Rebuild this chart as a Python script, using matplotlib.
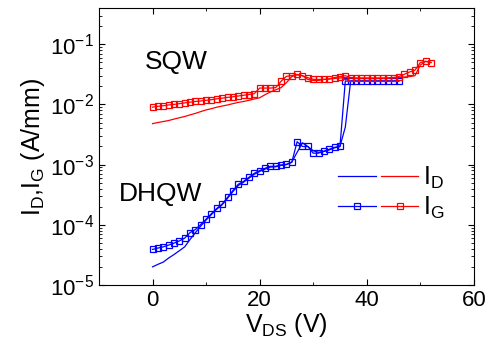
import numpy as np
import matplotlib
matplotlib.use('Agg')
import matplotlib.pyplot as plt
from matplotlib.legend_handler import HandlerTuple

plt.rcParams['font.family'] = 'Liberation Sans'
plt.rcParams['mathtext.default'] = 'regular'
plt.rcParams.update({'font.size': 16})

# DHQW (blue)
v_dh_g = np.arange(0, 47)
ig_dh = [3.9e-5, 4.1e-5, 4.3e-5, 4.6e-5, 4.95e-5, 5.4e-5, 6.0e-5, 7.4e-5, 8.35e-5, 1.01e-4,
         1.24e-4, 1.53e-4, 1.87e-4, 2.21e-4, 2.85e-4, 3.69e-4, 4.7e-4, 5.27e-4, 6.14e-4, 7.16e-4,
         7.94e-4, 8.68e-4, 9.37e-4, 9.37e-4, 9.89e-4, 1.01e-3, 1.09e-3, 2.4e-3, 2.0e-3, 2.0e-3,
         1.55e-3, 1.55e-3, 1.67e-3, 1.8e-3, 1.94e-3, 2.0e-3, 0.0245, 0.0245, 0.0245, 0.0245,
         0.0245, 0.0245, 0.0245, 0.0245, 0.0245, 0.0245, 0.0245]
v_dh_d = np.arange(0, 47)
id_dh = [2.0e-5, 2.2e-5, 2.4e-5, 2.8e-5, 3.2e-5, 3.7e-5, 4.3e-5, 5.7e-5, 7.4e-5, 9.5e-5,
         1.2e-4, 1.48e-4, 1.82e-4, 2.15e-4, 2.75e-4, 3.55e-4, 4.5e-4, 5.1e-4, 5.95e-4, 6.9e-4,
         7.7e-4, 8.4e-4, 9.1e-4, 9.2e-4, 9.7e-4, 1.0e-3, 1.1e-3, 1.6e-3, 2.3e-3, 2.0e-3,
         1.7e-3, 1.6e-3, 1.65e-3, 1.75e-3, 1.9e-3, 2.0e-3, 4.2e-3, 0.0245, 0.0245, 0.0245,
         0.0245, 0.0245, 0.0245, 0.0245, 0.0245, 0.0245, 0.0245]

# SQW (red)
v_sq = np.arange(0, 53)
ig_sq = [9.0e-3, 9.3e-3, 9.5e-3, 9.8e-3, 1.0e-2, 1.03e-2, 1.06e-2, 1.09e-2, 1.12e-2, 1.14e-2,
         1.17e-2, 1.2e-2, 1.24e-2, 1.27e-2, 1.31e-2, 1.34e-2, 1.38e-2, 1.42e-2, 1.46e-2, 1.51e-2,
         1.87e-2, 1.87e-2, 1.87e-2, 1.9e-2, 2.42e-2, 2.93e-2, 3.02e-2, 3.16e-2, 3.0e-2, 2.78e-2,
         2.61e-2, 2.6e-2, 2.6e-2, 2.65e-2, 2.8e-2, 2.9e-2, 3.0e-2, 2.8e-2, 2.75e-2, 2.75e-2,
         2.75e-2, 2.75e-2, 2.75e-2, 2.75e-2, 2.75e-2, 2.8e-2, 2.9e-2, 3.16e-2, 3.46e-2, 3.7e-2,
         4.95e-2, 5.2e-2, 4.95e-2]
id_sq = [4.8e-3, 5.0e-3, 5.2e-3, 5.4e-3, 5.7e-3, 6.0e-3, 6.3e-3, 6.7e-3, 7.1e-3, 7.6e-3,
         8.1e-3, 8.5e-3, 9.0e-3, 9.4e-3, 9.8e-3, 1.03e-2, 1.08e-2, 1.12e-2, 1.17e-2, 1.23e-2,
         1.29e-2, 1.45e-2, 1.61e-2, 1.75e-2, 1.9e-2, 2.3e-2, 2.9e-2, 3.1e-2, 3.0e-2, 2.6e-2,
         2.5e-2, 2.5e-2, 2.6e-2, 2.65e-2, 2.7e-2, 2.75e-2, 2.8e-2, 2.75e-2, 2.7e-2, 2.7e-2,
         2.7e-2, 2.7e-2, 2.7e-2, 2.7e-2, 2.75e-2, 2.75e-2, 2.8e-2, 2.85e-2, 2.9e-2, 3.0e-2,
         4.5e-2, 5.2e-2, 5.0e-2]

fig = plt.figure(figsize=(4.9, 3.54), dpi=100)
ax = fig.add_axes([0.202, 0.195, 0.765, 0.782])

blue = '#0000ff'
red = '#ff0000'
mk = dict(marker='s', markersize=4.2, markerfacecolor='none', markeredgewidth=0.9)

l_bd, = ax.plot(v_dh_d, id_dh, color=blue, lw=0.9)
l_bg, = ax.plot(v_dh_g, ig_dh, color=blue, lw=0.9, **mk)
l_rd, = ax.plot(v_sq, id_sq, color=red, lw=0.9)
l_rg, = ax.plot(v_sq, ig_sq, color=red, lw=0.9, **mk)

ax.set_yscale('log')
ax.set_xlim(-10, 60)
ax.set_ylim(1e-5, 10**-0.4)
ax.set_xticks([0, 20, 40, 60])
ax.set_xticks([10, 30, 50], minor=True)
ax.tick_params(which='both', direction='in', top=True, right=True, labelsize=16)
ax.tick_params(which='major', length=4)
ax.tick_params(which='minor', length=2.5)

ax.text(-1.5, 0.05, 'SQW', fontsize=19, va='center', ha='left')
ax.text(-6.3, 3.3e-4, 'DHQW', fontsize=19, va='center', ha='left')

ax.set_xlabel(r'V$_{DS}$ (V)', fontsize=18, labelpad=0)
ax.set_ylabel(r'I$_D$,I$_G$ (A/mm)', fontsize=18, labelpad=2)

ax.legend([(l_bd, l_rd), (l_bg, l_rg)], [r'I$_D$', r'I$_G$'],
          handler_map={tuple: HandlerTuple(ndivide=None, pad=0.2)},
          loc='upper left', bbox_to_anchor=(0.605, 0.48), frameon=False,
          handlelength=3.2, handletextpad=0.2, labelspacing=0.15, fontsize=18,
          borderpad=0)

plt.savefig('out.png', dpi=100)
